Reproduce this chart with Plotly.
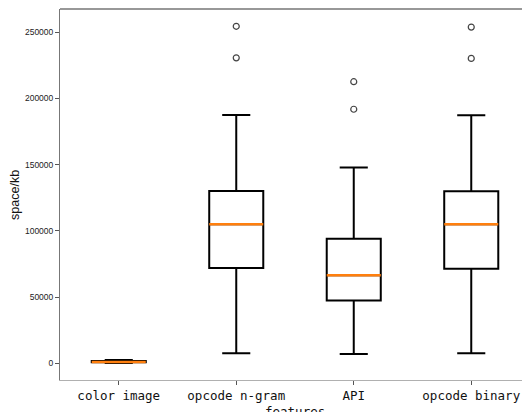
import plotly.graph_objects as go

categories = ["color image", "opcode n-gram", "API", "opcode binary"]
positions = [1, 2, 3, 4]
lower_whisker = [200, 7500, 7000, 7500]
q1_vals = [700, 71900, 47400, 71400]
median_vals = [1000, 105000, 66400, 105000]
q3_vals = [1700, 130000, 94000, 129800]
upper_whisker = [2500, 187400, 147800, 187200]
outliers = [[], [230500, 254300], [191700, 212500], [230100, 253700]]

BOX_W = 0.46

fig = go.Figure()
fig.add_trace(go.Box(
    x=positions, q1=q1_vals, median=median_vals, q3=q3_vals,
    lowerfence=lower_whisker, upperfence=upper_whisker,
    width=BOX_W, whiskerwidth=0.52,
    line=dict(color="#000000", width=2), fillcolor="rgba(255,255,255,0)",
    boxpoints=False, showlegend=False, hoverinfo="skip",
))

mx, my = [], []
for p, m in zip(positions, median_vals):
    mx += [p - BOX_W / 2, p + BOX_W / 2, None]
    my += [m, m, None]
fig.add_trace(go.Scatter(x=mx, y=my, mode="lines",
                         line=dict(color="#ff7f0e", width=2.5),
                         showlegend=False, hoverinfo="skip"))

ox, oy = [], []
for p, outs in zip(positions, outliers):
    for v in outs:
        ox.append(p)
        oy.append(v)
fig.add_trace(go.Scatter(x=ox, y=oy, mode="markers",
                         marker=dict(symbol="circle-open", size=6,
                                     color="#444444", line=dict(width=1.2)),
                         showlegend=False, hoverinfo="skip"))

# page body has an 8px margin, so the figure is sized 8px smaller and offset
fig.update_layout(
    width=522, height=404,
    margin=dict(l=52, r=0, t=1, b=32, autoexpand=False),
    paper_bgcolor="white", plot_bgcolor="white",
    font=dict(family="Liberation Sans, Arial, sans-serif", color="#000"),
    xaxis=dict(
        range=[0.5, 4.5], tickmode="array", tickvals=positions, ticktext=categories,
        showgrid=False, zeroline=False, automargin=False,
        showline=True, linecolor="#b0b0b0", linewidth=1, mirror=False,
        ticks="outside", ticklen=4, tickcolor="#555",
        tickfont=dict(family="DejaVu Sans Mono", size=12.5, color="#111"),
    ),
    yaxis=dict(
        range=[-12600, 267360], tickvals=[0, 50000, 100000, 150000, 200000, 250000],
        ticktext=["0", "50000", "100000", "150000", "200000", "250000"],
        showgrid=False, zeroline=False, automargin=False,
        showline=True, linecolor="#777", linewidth=1,
        ticks="outside", ticklen=4, tickcolor="#555",
        tickfont=dict(size=8.5, color="#222"),
    ),
    annotations=[
        dict(text="features", xref="paper", yref="paper", x=0.5, y=-0.058,
             xanchor="center", yanchor="top", showarrow=False,
             font=dict(family="DejaVu Sans Mono", size=12.5, color="#111")),
        dict(text="space/kb", xref="paper", yref="paper", x=-0.097, y=0.5,
             xanchor="center", yanchor="middle", showarrow=False, textangle=-90,
             font=dict(size=12.5, color="#111")),
    ],
)
fig.add_shape(type="line", xref="paper", yref="paper", x0=0, x1=1, y0=1, y1=1,
              line=dict(color="#333", width=1.2))

fig.write_html("out.html")
